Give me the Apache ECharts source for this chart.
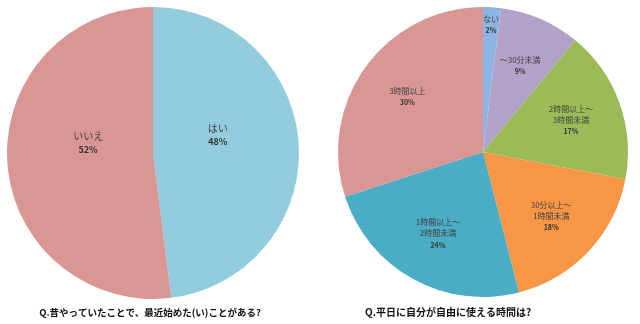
<!DOCTYPE html>
<html><head><meta charset="utf-8">
<script src="https://cdn.jsdelivr.net/npm/echarts@6/dist/echarts.min.js"></script>
<style>html,body{margin:0;padding:0;background:#fff}#c{width:640px;height:324px}</style>
</head><body><div id="c"></div>
<script>
const leftNames = ['はい', 'いいえ'];
const leftValues = [48, 52];
const leftColors = ['#93CDDD', '#D99694'];
const leftTitle = 'Q.昔やっていたことで、最近始めた(い)ことがある?';

const rightNames = ['ない', '～30分未満', '2時間以上～\n3時間未満', '30分以上～\n1時間未満', '1時間以上～\n2時間未満', '3時間以上'];
const rightValues = [2, 9, 17, 18, 24, 30];
const rightColors = ['#8EB4E3', '#B3A2C7', '#9BBB59', '#F79646', '#4BACC6', '#D99694'];
const rightTitle = 'Q.平日に自分が自由に使える時間は?';

const FONT = '"Noto Sans CJK JP", sans-serif';

function mk(names, values, colors) {
  return names.map((n, i) => ({ name: n, value: values[i], itemStyle: { color: colors[i] } }));
}
function labelRich(fs, pfs) {
  return {
    show: true, position: 'inside', fontFamily: FONT, color: '#404040',
    formatter: p => p.name + '\n{p|' + p.value + '%}',
    fontSize: fs, lineHeight: fs + 3,
    rich: { p: { fontFamily: FONT, fontSize: pfs, fontWeight: 'bold', color: '#333', lineHeight: pfs + 5 } }
  };
}
function overlay(names, values, center, radius, filter, fs, pfs, dy) {
  return {
    type: 'pie', center, radius, startAngle: 90, clockwise: true, silent: true,
    animation: false, labelLine: { show: false }, emphasis: { disabled: true },
    itemStyle: { color: 'rgba(0,0,0,0)' },
    label: labelRich(fs, pfs),
    labelLayout: { dy: dy || 0 },
    data: names.map((n, i) => ({ name: n, value: values[i], label: { show: filter(i) } }))
  };
}

const chart = echarts.init(document.getElementById('c'), null, { renderer: 'canvas' });
chart.setOption({
  backgroundColor: '#fff',
  animation: false,
  title: [
    { text: leftTitle, left: 145, top: 303, textAlign: 'center',
      textStyle: { fontFamily: FONT, fontSize: 9.5, fontWeight: 'bold', color: '#111' } },
    { text: rightTitle, left: 443, top: 302, textAlign: 'center',
      textStyle: { fontFamily: FONT, fontSize: 10, fontWeight: 'bold', color: '#111' } }
  ],
  series: [
    { type: 'pie', center: [153, 153], radius: [0, 146], startAngle: 90, clockwise: true,
      silent: true, label: { show: false }, labelLine: { show: false },
      data: mk(leftNames, leftValues, leftColors) },
    overlay(leftNames, leftValues, [153, 153], [0, 124], () => true, 10, 9, -14),
    { type: 'pie', center: [483, 152], radius: [0, 145], startAngle: 90, clockwise: true,
      silent: true, label: { show: false }, labelLine: { show: false },
      data: mk(rightNames, rightValues, rightColors) },
    overlay(rightNames, rightValues, [483, 152], [44, 137], i => i !== 0, 8, 7),
    overlay(rightNames, rightValues, [483, 152], [108, 140], i => i === 0, 8, 7)
  ]
});
</script></body></html>
